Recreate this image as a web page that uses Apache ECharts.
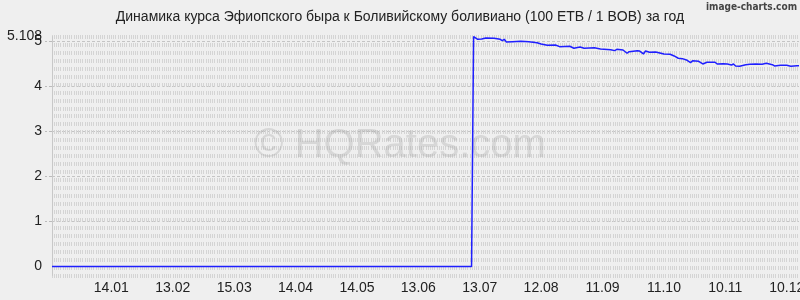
<!DOCTYPE html>
<html>
<head>
<meta charset="utf-8">
<script src="https://cdn.jsdelivr.net/npm/echarts@6/dist/echarts.min.js"></script>
<style>
html,body{margin:0;padding:0;background:#efefef;}
#chart{width:800px;height:300px;}
</style>
</head>
<body>
<div id="chart"></div>
<script>
const chartTitle = 'Динамика курса Эфиопского быра к Боливийскому боливиано (100 ETB / 1 BOB) за год';
const dates = [
  '2024-12-16','2025-07-09','2025-07-10','2025-07-12','2025-07-14','2025-07-16','2025-07-20','2025-07-23',
  '2025-07-24','2025-07-25','2025-07-26','2025-07-29','2025-08-02','2025-08-06','2025-08-10','2025-08-12',
  '2025-08-15','2025-08-19','2025-08-21','2025-08-26','2025-08-28','2025-08-31','2025-09-02','2025-09-07',
  '2025-09-10','2025-09-15','2025-09-17','2025-09-18','2025-09-21','2025-09-23','2025-09-24','2025-09-28',
  '2025-09-29','2025-10-01','2025-10-02','2025-10-04','2025-10-07','2025-10-11','2025-10-14','2025-10-16',
  '2025-10-18','2025-10-20','2025-10-22','2025-10-24','2025-10-25','2025-10-28','2025-10-30','2025-11-01',
  '2025-11-05','2025-11-06','2025-11-09','2025-11-11','2025-11-13','2025-11-14','2025-11-15','2025-11-17',
  '2025-11-20','2025-11-22','2025-11-25','2025-11-28','2025-11-30','2025-12-03','2025-12-04','2025-12-07',
  '2025-12-10','2025-12-12','2025-12-15','2025-12-16'
];
const rates = [
  0, 0, 5.108, 5.049, 5.056, 5.078, 5.071, 5.049,
  5.018, 5.049, 4.989, 4.996, 5.004, 4.996, 4.973, 4.944,
  4.916, 4.922, 4.884, 4.893, 4.849, 4.878, 4.849, 4.862,
  4.833, 4.818, 4.796, 4.827, 4.811, 4.738, 4.773, 4.796,
  4.789, 4.722, 4.789, 4.760, 4.767, 4.722, 4.716, 4.678,
  4.627, 4.618, 4.589, 4.529, 4.573, 4.560, 4.500, 4.538,
  4.538, 4.500, 4.507, 4.500, 4.478, 4.500, 4.456, 4.449,
  4.484, 4.491, 4.500, 4.493, 4.516, 4.484, 4.456, 4.471,
  4.471, 4.449, 4.462, 4.460
];
const xTickDates = ['2025-01-14','2025-02-13','2025-03-15','2025-04-14','2025-05-14','2025-06-13',
  '2025-07-13','2025-08-12','2025-09-11','2025-10-11','2025-11-10','2025-12-10'];
const yLabelValues = [0, 1, 2, 3, 4, 5];
const yMaxLabelValues = [5.108];
const yGridValues = [1, 2, 3, 4, 5];
const xStart = '2024-12-16';
const xEnd = '2025-12-16';
const yMin = -0.2;
const yMax = 5.108;

const pd = s => echarts.number.parseDate(s).getTime();
const pad = n => (n < 10 ? '0' : '') + n;

const labelStyle = {margin: 10, fontSize: 14, color: '#222', fontFamily: 'Liberation Sans', hideOverlap: false};

const chart = echarts.init(document.getElementById('chart'), null, {renderer: 'canvas'});
chart.setOption({
  animation: false,
  backgroundColor: '#efefef',
  textStyle: {fontFamily: 'Liberation Sans, Arial, sans-serif'},
  title: {
    text: chartTitle,
    left: 'center',
    top: 10,
    padding: 0,
    textStyle: {fontSize: 14, fontWeight: 'normal', color: '#222', fontFamily: 'Liberation Sans'}
  },
  graphic: [
    {
      type: 'text', right: 3, top: 2, z: 5,
      style: {text: 'image-charts.com', font: 'bold 10px "DejaVu Sans Condensed"', fill: '#444'}
    },
    {
      type: 'text', left: 'center', top: 126, z: 1,
      style: {text: '© HQRates.com', font: '40px "Liberation Sans"', fill: 'rgba(160,160,160,0.3)'}
    }
  ],
  grid: {left: 52, right: 1, top: 36.6, bottom: 24.5, containLabel: false, outerBoundsMode: 'none'},
  xAxis: {
    type: 'value',
    min: pd(xStart),
    max: pd(xEnd),
    axisLine: {show: false},
    axisTick: {show: false},
    splitLine: {show: false},
    axisLabel: {
      customValues: xTickDates.map(pd),
      margin: 6,
      fontSize: 14,
      color: '#222',
      fontFamily: 'Liberation Sans',
      hideOverlap: false,
      formatter: v => { const d = new Date(v); return pad(d.getDate()) + '.' + pad(d.getMonth() + 1); }
    }
  },
  yAxis: [
    {
      type: 'value',
      min: yMin,
      max: yMax,
      axisLine: {show: true, lineStyle: {color: '#c8c8c8', width: 1}},
      axisTick: {show: true, customValues: yGridValues, length: 7, lineStyle: {color: '#bbbbbb', type: [3, 2]}},
      splitLine: {show: true, lineStyle: {color: '#c4c4c4', width: 1, type: [3, 2]}},
      axisLabel: Object.assign({customValues: yLabelValues, formatter: v => String(v)}, labelStyle)
    },
    {
      type: 'value',
      min: 0,
      max: 30,
      interval: 1,
      position: 'left',
      axisLine: {show: false},
      axisTick: {show: false},
      axisLabel: {show: false},
      splitLine: {show: true, lineStyle: {color: '#d4d4d4', width: 4, type: [1, 1, 1, 1, 1, 1, 1, 1, 1, 2]}}
    },
    {
      type: 'value',
      min: yMin,
      max: yMax,
      position: 'left',
      axisLine: {show: false},
      axisTick: {show: false},
      splitLine: {show: false},
      axisLabel: Object.assign({customValues: yMaxLabelValues, showMaxLabel: true, formatter: v => String(v)}, labelStyle)
    }
  ],
  series: [{
    type: 'line',
    yAxisIndex: 0,
    showSymbol: false,
    z: 3,
    lineStyle: {color: '#1f1fff', width: 1.5},
    data: dates.map((d, i) => [pd(d), rates[i]])
  }]
});
</script>
</body>
</html>
